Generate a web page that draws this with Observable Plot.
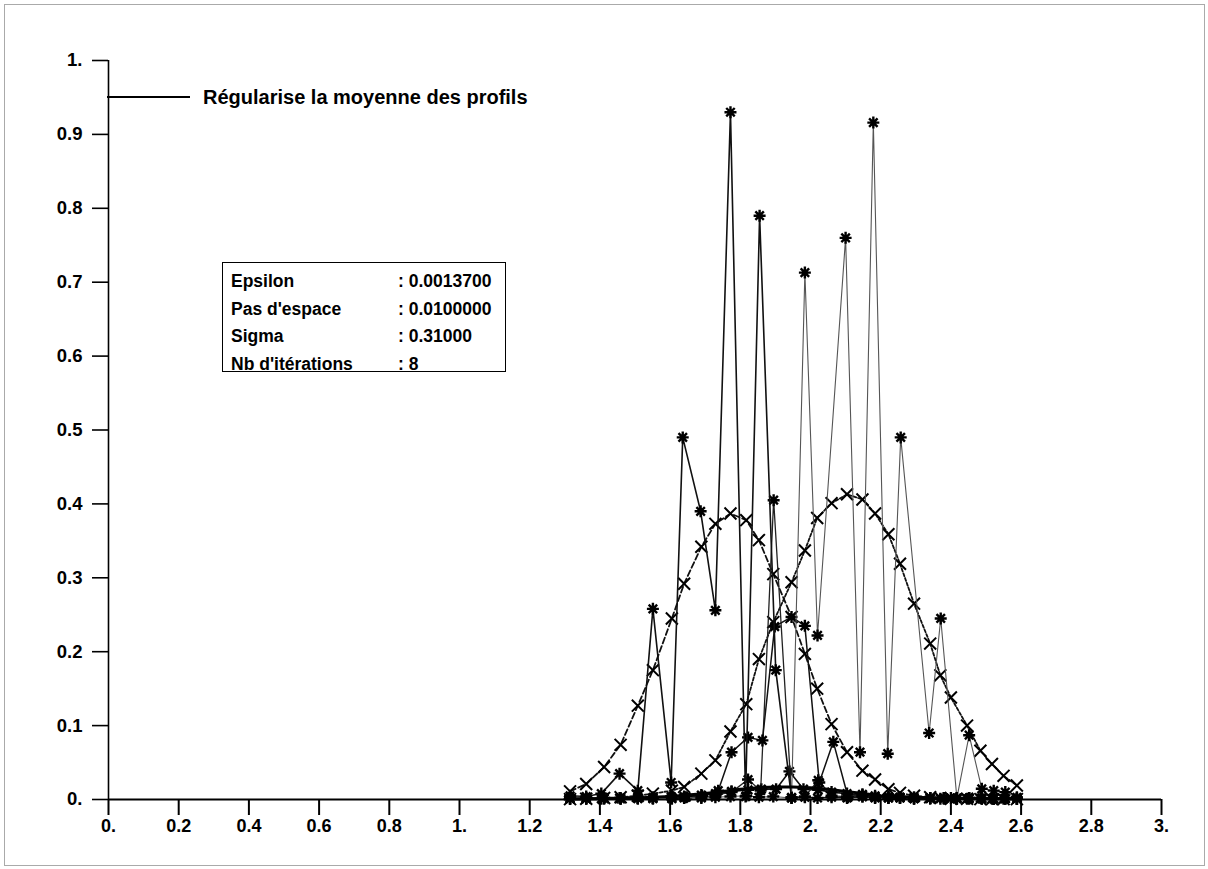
<!DOCTYPE html>
<html>
<head>
<meta charset="utf-8">
<script src="https://cdn.jsdelivr.net/npm/d3@7"></script>
<script src="https://cdn.jsdelivr.net/npm/@observablehq/plot@0.6"></script>
<style>
  html, body { margin: 0; padding: 0; background: #fff; }
  #wrap { position: relative; width: 1208px; height: 869px; overflow: hidden; font-family: "Liberation Sans", Arial, sans-serif; font-weight: bold; color: #000; }
  #page { position: absolute; left: 4px; top: 4px; right: 3px; bottom: 3px; border: 1px solid #aaa; pointer-events: none; }
  #legend { position: absolute; left: 107px; top: 84px; height: 26px; display: flex; align-items: center; }
  #legend .ln { width: 83px; height: 0; border-top: 2.5px solid #000; margin-right: 13px; }
  #legend .tx { font-size: 20px; white-space: nowrap; }
  #info { position: absolute; left: 222px; top: 262px; width: 284px; height: 110px; border: 1.3px solid #000; box-sizing: border-box; font-size: 17.5px; }
  #info .row { position: absolute; left: 8px; white-space: nowrap; }
  #info .val { position: absolute; left: 175px; white-space: nowrap; }
</style>
</head>
<body>
<div id="wrap">
  <div id="chart"></div>
  <div id="page"></div>
  <div id="legend"><div class="ln"></div><div class="tx"></div></div>
  <div id="info"></div>
</div>
<script>
// ---------- data ----------
const legendLabel = "Régularise la moyenne des profils";
const infoLabels = ["Epsilon", "Pas d'espace", "Sigma", "Nb d'itérations"];
const infoValues = [": 0.0013700", ": 0.0100000", ": 0.31000", ": 8"];

const xTicks = [0, 0.2, 0.4, 0.6, 0.8, 1, 1.2, 1.4, 1.6, 1.8, 2, 2.2, 2.4, 2.6, 2.8, 3];
const xTickLabels = ["0.", "0.2", "0.4", "0.6", "0.8", "1.", "1.2", "1.4", "1.6", "1.8", "2.", "2.2", "2.4", "2.6", "2.8", "3."];
const yTicks = [0, 0.1, 0.2, 0.3, 0.4, 0.5, 0.6, 0.7, 0.8, 0.9, 1];
const yTickLabels = ["0.", "0.1", "0.2", "0.3", "0.4", "0.5", "0.6", "0.7", "0.8", "0.9", "1."];

// shared abscissae of the "x" marked curves
const gx = [1.315, 1.361, 1.412, 1.459, 1.508, 1.551, 1.605, 1.640, 1.689, 1.729, 1.772, 1.817, 1.853, 1.894, 1.946, 1.984,
            2.019, 2.060, 2.104, 2.148, 2.184, 2.222, 2.255, 2.295, 2.341, 2.370, 2.400, 2.446, 2.484, 2.517, 2.550, 2.588];
// left regularised profile (x markers)
const g1y = [0.011, 0.021, 0.044, 0.074, 0.127, 0.175, 0.245, 0.292, 0.342, 0.373, 0.387, 0.378, 0.351, 0.305, 0.247, 0.197,
             0.150, 0.102, 0.064, 0.039, 0.027, 0.014, 0.009, 0.005, 0.003, 0.002, 0.001, 0.001, 0.0005, 0.0005, 0.0005, 0.0005];
// right regularised profile (x markers)
const g2y = [0.0005, 0.001, 0.002, 0.003, 0.005, 0.008, 0.012, 0.017, 0.035, 0.053, 0.092, 0.129, 0.190, 0.240, 0.294, 0.337,
             0.381, 0.401, 0.413, 0.406, 0.387, 0.359, 0.319, 0.265, 0.211, 0.168, 0.138, 0.100, 0.066, 0.048, 0.032, 0.019];

// spiky profile, left (asterisks)
const sAx = [1.315, 1.361, 1.404, 1.456, 1.508, 1.551, 1.603, 1.636, 1.687, 1.729, 1.772, 1.815, 1.855, 1.901, 1.946, 1.984,
             2.020, 2.060, 2.104, 2.148, 2.184, 2.222, 2.255, 2.295, 2.341, 2.370, 2.400, 2.446, 2.484, 2.517, 2.550, 2.588];
const sAy = [0.005, 0.004, 0.008, 0.035, 0.012, 0.258, 0.023, 0.490, 0.390, 0.256, 0.930, 0.004, 0.790, 0.175, 0.002, 0.003,
             0.002, 0.003, 0.002, 0.004, 0.002, 0.003, 0.002, 0.001, 0.002, 0.001, 0.002, 0.001, 0.002, 0.001, 0.001, 0.001];
// spiky profile, right (asterisks, lighter line)
const sRx = [1.315, 1.361, 1.412, 1.459, 1.508, 1.551, 1.605, 1.640, 1.689, 1.729, 1.772, 1.817, 1.853, 1.894, 1.946, 1.984,
             2.020, 2.100, 2.141, 2.179, 2.220, 2.257, 2.338, 2.371, 2.417, 2.452, 2.488, 2.522, 2.555, 2.588];
const sRy = [0.001, 0.001, 0.002, 0.001, 0.002, 0.001, 0.002, 0.003, 0.002, 0.003, 0.004, 0.005, 0.003, 0.004, 0.002, 0.713,
             0.222, 0.760, 0.064, 0.916, 0.062, 0.490, 0.090, 0.245, 0.002, 0.087, 0.0145, 0.012, 0.010, 0.003];
// low profile with the 0.25 shoulder
const sCx = [1.315, 1.361, 1.404, 1.456, 1.508, 1.551, 1.603, 1.646, 1.691, 1.737, 1.775, 1.822, 1.863, 1.898, 1.946, 1.984,
             2.025, 2.065, 2.107, 2.148, 2.184, 2.222, 2.255, 2.295, 2.341, 2.380, 2.417, 2.452, 2.488, 2.522, 2.555, 2.588];
const sCy = [0.001, 0.002, 0.001, 0.002, 0.003, 0.002, 0.004, 0.003, 0.005, 0.012, 0.064, 0.084, 0.080, 0.234, 0.247, 0.235,
             0.023, 0.078, 0.003, 0.004, 0.003, 0.002, 0.002, 0.001, 0.002, 0.001, 0.002, 0.001, 0.002, 0.001, 0.001, 0.001];
// low profile with a single 0.4 spike
const sDx = [1.315, 1.361, 1.412, 1.459, 1.508, 1.551, 1.605, 1.640, 1.689, 1.729, 1.775, 1.822, 1.858, 1.895, 1.946, 1.984,
             2.022, 2.060, 2.104, 2.148, 2.184, 2.222, 2.255, 2.295, 2.341, 2.380, 2.417, 2.452, 2.488, 2.522, 2.555, 2.588];
const sDy = [0.002, 0.001, 0.001, 0.002, 0.001, 0.002, 0.001, 0.002, 0.003, 0.006, 0.010, 0.027, 0.012, 0.405, 0.003, 0.004,
             0.026, 0.005, 0.004, 0.007, 0.003, 0.002, 0.003, 0.002, 0.001, 0.002, 0.001, 0.002, 0.001, 0.001, 0.002, 0.001];
// low profile with the small bump near 1.94
const sEx = [1.315, 1.361, 1.412, 1.459, 1.508, 1.551, 1.605, 1.640, 1.689, 1.729, 1.775, 1.822, 1.860, 1.902, 1.940, 1.980,
             2.022, 2.060, 2.104, 2.148, 2.184, 2.222, 2.255, 2.295, 2.341, 2.380, 2.417, 2.452, 2.488, 2.522, 2.555, 2.588];
const sEy = [0.001, 0.002, 0.002, 0.001, 0.002, 0.003, 0.003, 0.004, 0.006, 0.008, 0.011, 0.013, 0.014, 0.014, 0.038, 0.014,
             0.013, 0.010, 0.008, 0.006, 0.005, 0.004, 0.003, 0.003, 0.002, 0.002, 0.001, 0.002, 0.001, 0.001, 0.001, 0.001];
// regularised mean of the profiles (plain heavy line)
const mx = [1.30, 1.40, 1.50, 1.60, 1.70, 1.75, 1.80, 1.85, 1.90, 1.95, 2.00, 2.05, 2.10, 2.15, 2.20, 2.30, 2.40, 2.50, 2.60];
const my = [0.0005, 0.001, 0.002, 0.004, 0.008, 0.011, 0.014, 0.016, 0.017, 0.017, 0.016, 0.014, 0.011, 0.008, 0.005, 0.003, 0.0015, 0.001, 0.0005];

// ---------- build ----------
const zip = (xs, ys) => xs.map((x, i) => ({x, y: ys[i]}));
const G1 = zip(gx, g1y), G2 = zip(gx, g2y);
const SA = zip(sAx, sAy), SR = zip(sRx, sRy), SC = zip(sCx, sCy), SD = zip(sDx, sDy), SE = zip(sEx, sEy);
const M = zip(mx, my);

const star = {
  draw(context, size) {
    const r = Math.sqrt(size / Math.PI);
    const d = r * Math.SQRT1_2;
    context.moveTo(-r, 0); context.lineTo(r, 0);
    context.moveTo(0, -r); context.lineTo(0, r);
    context.moveTo(-d, -d); context.lineTo(d, d);
    context.moveTo(-d, d); context.lineTo(d, -d);
  }
};
const lab = (ticks, labels) => d => labels[ticks.findIndex(t => Math.abs(t - d) < 1e-9)];

const starMarks = (data, stroke, sw) => [
  Plot.line(data, {x: "x", y: "y", stroke, strokeWidth: sw}),
  Plot.dot(data, {x: "x", y: "y", symbol: star, r: 6, stroke: "#000", strokeWidth: 2.4, fill: "none"})
];
const crossMarks = (data, dash) => [
  Plot.line(data, {x: "x", y: "y", stroke: "#111", strokeWidth: 1.8, strokeDasharray: dash}),
  Plot.dot(data, {x: "x", y: "y", symbol: "times", r: 5.5, stroke: "#000", strokeWidth: 2})
];

const chart = Plot.plot({
  width: 1208,
  height: 869,
  marginLeft: 108,
  marginRight: 47,
  marginTop: 60,
  marginBottom: 70,
  style: {fontFamily: "'Liberation Sans', Arial, sans-serif", fontWeight: "bold", fontSize: "18px", background: "#fff", color: "#000", overflow: "visible"},
  x: {domain: [0, 3]},
  y: {domain: [0, 1]},
  marks: [
    Plot.axisX({ticks: xTicks, tickFormat: lab(xTicks, xTickLabels), tickSize: 16, tickPadding: 4, strokeWidth: 2, label: null, fontSize: 18}),
    Plot.axisY({ticks: yTicks, tickFormat: lab(yTicks, yTickLabels), tickSize: 16, tickPadding: 10, strokeWidth: 1.6, label: null, fontSize: 18.5}),
    Plot.ruleX([0], {stroke: "#000", strokeWidth: 1.6}),
    Plot.ruleY([0], {stroke: "#000", strokeWidth: 2}),
    ...crossMarks(G1, "6,3"),
    ...crossMarks(G2, "3,2"),
    ...starMarks(SE, "#111", 1.6),
    ...starMarks(SD, "#222", 1.3),
    ...starMarks(SC, "#111", 1.5),
    ...starMarks(SR, "#555", 1.1),
    ...starMarks(SA, "#111", 1.6),
    Plot.line(M, {x: "x", y: "y", stroke: "#000", strokeWidth: 3})
  ]
});
document.getElementById("chart").appendChild(chart);

document.querySelector("#legend .tx").textContent = legendLabel;
const info = document.getElementById("info");
infoLabels.forEach((t, i) => {
  const top = 8 + i * 27.7;
  const a = document.createElement("div"); a.className = "row"; a.style.top = top + "px"; a.textContent = t; info.appendChild(a);
  const b = document.createElement("div"); b.className = "val"; b.style.top = top + "px"; b.textContent = infoValues[i]; info.appendChild(b);
});
</script>
</body>
</html>
